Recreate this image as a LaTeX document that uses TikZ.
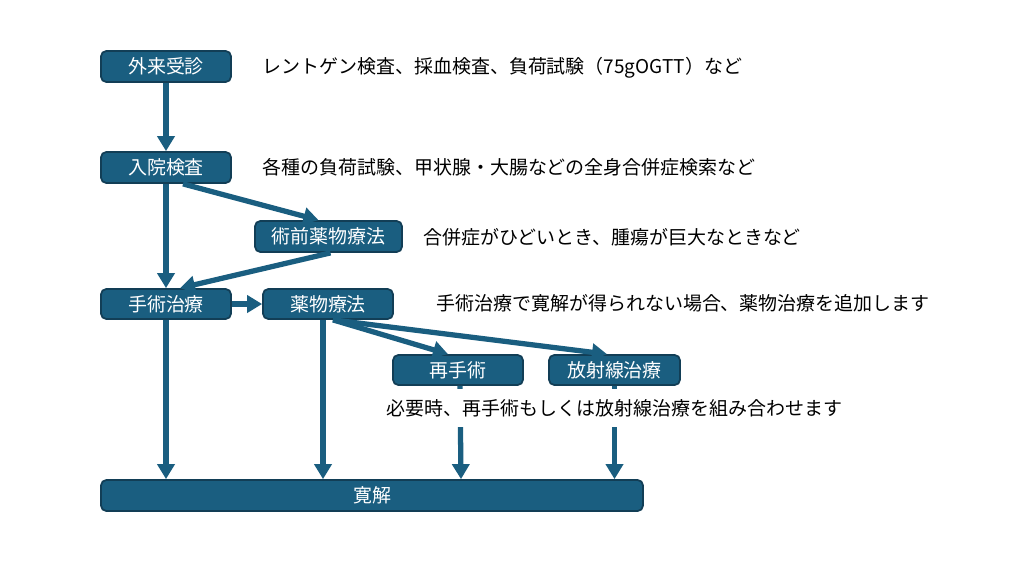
\documentclass[tikz,border=0pt]{standalone}
\usepackage{fontspec}
\setmainfont{Noto Sans CJK JP}
\usetikzlibrary{arrows.meta}
\definecolor{boxfill}{RGB}{26,94,128}
\definecolor{boxline}{RGB}{18,62,86}
\tikzset{
  box/.style={draw=boxline, line width=1pt, fill=boxfill, rounded corners=3pt, text=white, font=\fontsize{10.8}{12}\selectfont, inner sep=0pt},
  note/.style={anchor=west, inner sep=0pt, font=\fontsize{10.8}{12}\selectfont, text=black},
  arr/.style={draw=boxfill, line width=3pt, -{Triangle[width=0.34cm,length=0.3cm]}},
}
\begin{document}
\begin{tikzpicture}[x=0.02cm,y=-0.02cm]
\useasboundingbox (0,0) rectangle (1024,576);
\node[box, minimum width=2.6cm, minimum height=0.62cm] (gairai) at (166,66.5) {外来受診};
\node[box, minimum width=2.6cm, minimum height=0.62cm] (nyuin) at (166,167.5) {入院検査};
\node[box, minimum width=2.94cm, minimum height=0.62cm] (jutsuzen) at (328.5,236.5) {術前薬物療法};
\node[box, minimum width=2.6cm, minimum height=0.6cm] (shujutsu) at (166,304) {手術治療};
\node[box, minimum width=2.6cm, minimum height=0.6cm] (yakubutsu) at (328,304) {薬物療法};
\node[box, minimum width=2.6cm, minimum height=0.6cm] (saishu) at (458,370) {再手術};
\node[box, minimum width=2.62cm, minimum height=0.6cm] (hosha) at (614.5,370) {放射線治療};
\node[box, minimum width=10.84cm, minimum height=0.62cm] (kankai) at (372,495.5) {寛解};

\node[note] (t1) at (262,68) {レントゲン検査、採血検査、負荷試験（75gOGTT）など};
\node[note] (t2) at (262,167) {各種の負荷試験、甲状腺・大腸などの全身合併症検索など};
\node[note] (t3) at (423,237) {合併症がひどいとき、腫瘍が巨大なときなど};
\node[note] (t4) at (436,303) {手術治療で寛解が得られない場合、薬物治療を追加します};

\coordinate (sb) at ([xshift=0.34cm]nyuin.south);
\coordinate (jt) at ([xshift=-0.2cm]jutsuzen.north);
\coordinate (jb) at ([xshift=0.04cm]jutsuzen.south);
\coordinate (st) at ([xshift=0.28cm]shujutsu.north);
\coordinate (yb) at ([xshift=-0.1cm]yakubutsu.south);
\coordinate (yb2) at ([xshift=0.1cm]yakubutsu.south);

\draw[arr] (gairai.south) -- (nyuin.north);
\draw[arr] (nyuin.south) -- (shujutsu.north);
\draw[arr] (sb) -- (jt);
\draw[arr] (jb) -- (st);
\draw[arr] (shujutsu.east) -- (yakubutsu.west);
\draw[arr] (yb2) -- ([xshift=-0.2cm]saishu.north);
\draw[arr] (yb2) -- ([xshift=-0.15cm]hosha.north);
\draw[arr] (shujutsu.south) -- (shujutsu.south |- kankai.north);
\draw[arr] (yb) -- (yb |- kankai.north);
\draw[arr] ([xshift=0.04cm]saishu.south) -- ([xshift=0.06cm]saishu.south |- kankai.north);
\draw[arr] (hosha.south) -- (hosha.south |- kankai.north);

\node[note, fill=white, inner ysep=6pt, inner xsep=2pt] (t5) at (383,408) {必要時、再手術もしくは放射線治療を組み合わせます};
\end{tikzpicture}
\end{document}
